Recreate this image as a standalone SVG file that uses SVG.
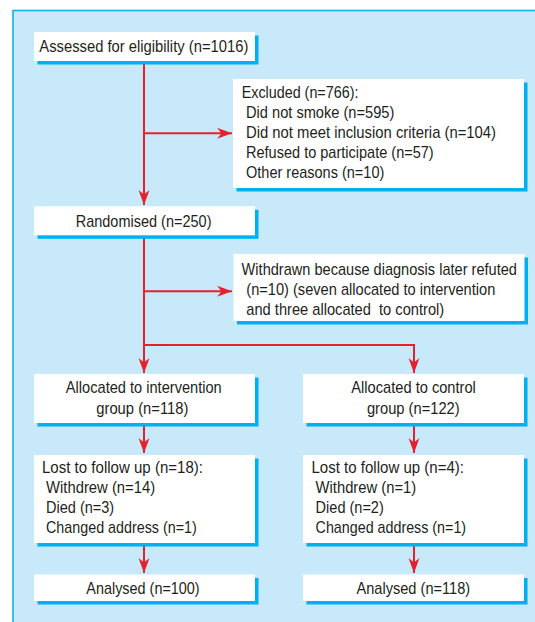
<svg xmlns="http://www.w3.org/2000/svg" width="535" height="622" viewBox="0 0 535 622">
<defs>
<style>
.panel{fill:#c7e9f9;stroke:#13b1ec;stroke-width:1.6}
.shadow{fill:#00b0ef}
.box{fill:#ffffff}
.t{font-family:"Liberation Sans",Arial,sans-serif;font-size:17px;fill:#231f20;white-space:pre}
.c{text-anchor:middle}
.ln{stroke:#e8202d;stroke-width:2;fill:none}
</style>
<marker id="ah" markerUnits="userSpaceOnUse" markerWidth="16" markerHeight="12" viewBox="-15 -6 16 12" refX="0" refY="0" orient="auto">
<path d="M0,0 L-15,-5.5 Q-11,-1 -11,0 Q-11,1 -15,5.5 Z" fill="#e8202d"/>
</marker>
</defs>
<rect class="panel" x="13" y="10.5" width="540" height="630"/>

<g id="connectors">
<path class="ln" d="M144,61 V205" marker-end="url(#ah)"/>
<path class="ln" d="M144,133.3 H232" marker-end="url(#ah)"/>
<path class="ln" d="M144,235 V345"/>
<path class="ln" d="M144,291.3 H232" marker-end="url(#ah)"/>
<path class="ln" d="M144,345 H414"/>
<path class="ln" d="M144,345 V373" marker-end="url(#ah)"/>
<path class="ln" d="M414,344 V373" marker-end="url(#ah)"/>
<path class="ln" d="M144,423 V453" marker-end="url(#ah)"/>
<path class="ln" d="M414,423 V453" marker-end="url(#ah)"/>
<path class="ln" d="M144,543 V573" marker-end="url(#ah)"/>
<path class="ln" d="M414,543 V573" marker-end="url(#ah)"/>
</g>

<g id="assessed">
<rect class="shadow" x="37.5" y="35.5" width="221" height="29"/>
<rect class="box" x="34" y="32" width="221" height="29"/>
<text class="t" x="39.3" y="51.7" textLength="209" lengthAdjust="spacingAndGlyphs">Assessed for eligibility (n=1016)</text>
</g>

<g id="excluded">
<rect class="shadow" x="236.5" y="82.5" width="291" height="109"/>
<rect class="box" x="233" y="79" width="291" height="109"/>
<text class="t" x="241.7" y="97.5" textLength="116.7" lengthAdjust="spacingAndGlyphs">Excluded (n=766):</text>
<text class="t" x="246" y="117.6" textLength="148.3" lengthAdjust="spacingAndGlyphs">Did not smoke (n=595)</text>
<text class="t" x="246" y="137.8" textLength="250" lengthAdjust="spacingAndGlyphs">Did not meet inclusion criteria (n=104)</text>
<text class="t" x="246" y="157.9" textLength="187.7" lengthAdjust="spacingAndGlyphs">Refused to participate (n=57)</text>
<text class="t" x="246" y="178" textLength="138.3" lengthAdjust="spacingAndGlyphs">Other reasons (n=10)</text>
</g>

<g id="randomised">
<rect class="shadow" x="37.5" y="209.8" width="221" height="29"/>
<rect class="box" x="34" y="206.3" width="221" height="29"/>
<text class="t c" x="143.6" y="226.5" textLength="135.8" lengthAdjust="spacingAndGlyphs">Randomised (n=250)</text>
</g>

<g id="withdrawn">
<rect class="shadow" x="237" y="257.5" width="291" height="67"/>
<rect class="box" x="233.5" y="254" width="291" height="67"/>
<text class="t" x="241.6" y="274.6" textLength="275.3" lengthAdjust="spacingAndGlyphs">Withdrawn because diagnosis later refuted</text>
<text class="t" x="246.3" y="294.8" textLength="249" lengthAdjust="spacingAndGlyphs">(n=10) (seven allocated to intervention</text>
<text class="t" x="246.3" y="315.2" textLength="197.9" lengthAdjust="spacingAndGlyphs">and three allocated  to control)</text>
</g>

<g id="alloc-intervention">
<rect class="shadow" x="37.5" y="377.5" width="221" height="49"/>
<rect class="box" x="34" y="374" width="221" height="49"/>
<text class="t c" x="143.8" y="393" textLength="155.9" lengthAdjust="spacingAndGlyphs">Allocated to intervention</text>
<text class="t c" x="142.3" y="414" textLength="92.1" lengthAdjust="spacingAndGlyphs">group (n=118)</text>
</g>

<g id="alloc-control">
<rect class="shadow" x="306.5" y="377.5" width="221" height="49"/>
<rect class="box" x="303" y="374" width="221" height="49"/>
<text class="t c" x="413.6" y="393" textLength="124.5" lengthAdjust="spacingAndGlyphs">Allocated to control</text>
<text class="t c" x="413.3" y="414" textLength="92.8" lengthAdjust="spacingAndGlyphs">group (n=122)</text>
</g>

<g id="lost-intervention">
<rect class="shadow" x="37.5" y="458.5" width="221" height="88"/>
<rect class="box" x="34" y="455" width="221" height="88"/>
<text class="t" x="42" y="473" textLength="161" lengthAdjust="spacingAndGlyphs">Lost to follow up (n=18):</text>
<text class="t" x="46" y="493.2" textLength="109.2" lengthAdjust="spacingAndGlyphs">Withdrew (n=14)</text>
<text class="t" x="46" y="513.2" textLength="68.2" lengthAdjust="spacingAndGlyphs">Died (n=3)</text>
<text class="t" x="46" y="533.2" textLength="150.8" lengthAdjust="spacingAndGlyphs">Changed address (n=1)</text>
</g>

<g id="lost-control">
<rect class="shadow" x="306.5" y="458.5" width="221" height="88"/>
<rect class="box" x="303" y="455" width="221" height="88"/>
<text class="t" x="311.5" y="473" textLength="152.5" lengthAdjust="spacingAndGlyphs">Lost to follow up (n=4):</text>
<text class="t" x="315.6" y="493.2" textLength="100.6" lengthAdjust="spacingAndGlyphs">Withdrew (n=1)</text>
<text class="t" x="315.6" y="513.2" textLength="68.2" lengthAdjust="spacingAndGlyphs">Died (n=2)</text>
<text class="t" x="315.6" y="533.2" textLength="150.5" lengthAdjust="spacingAndGlyphs">Changed address (n=1)</text>
</g>

<g id="analysed-intervention">
<rect class="shadow" x="37.5" y="578" width="221" height="26.5"/>
<rect class="box" x="34" y="574.5" width="221" height="26.5"/>
<text class="t c" x="143" y="593.5" textLength="113.3" lengthAdjust="spacingAndGlyphs">Analysed (n=100)</text>
</g>

<g id="analysed-control">
<rect class="shadow" x="306.5" y="578" width="221" height="26.5"/>
<rect class="box" x="303" y="574.5" width="221" height="26.5"/>
<text class="t c" x="413.3" y="593.5" textLength="113.6" lengthAdjust="spacingAndGlyphs">Analysed (n=118)</text>
</g>
</svg>
